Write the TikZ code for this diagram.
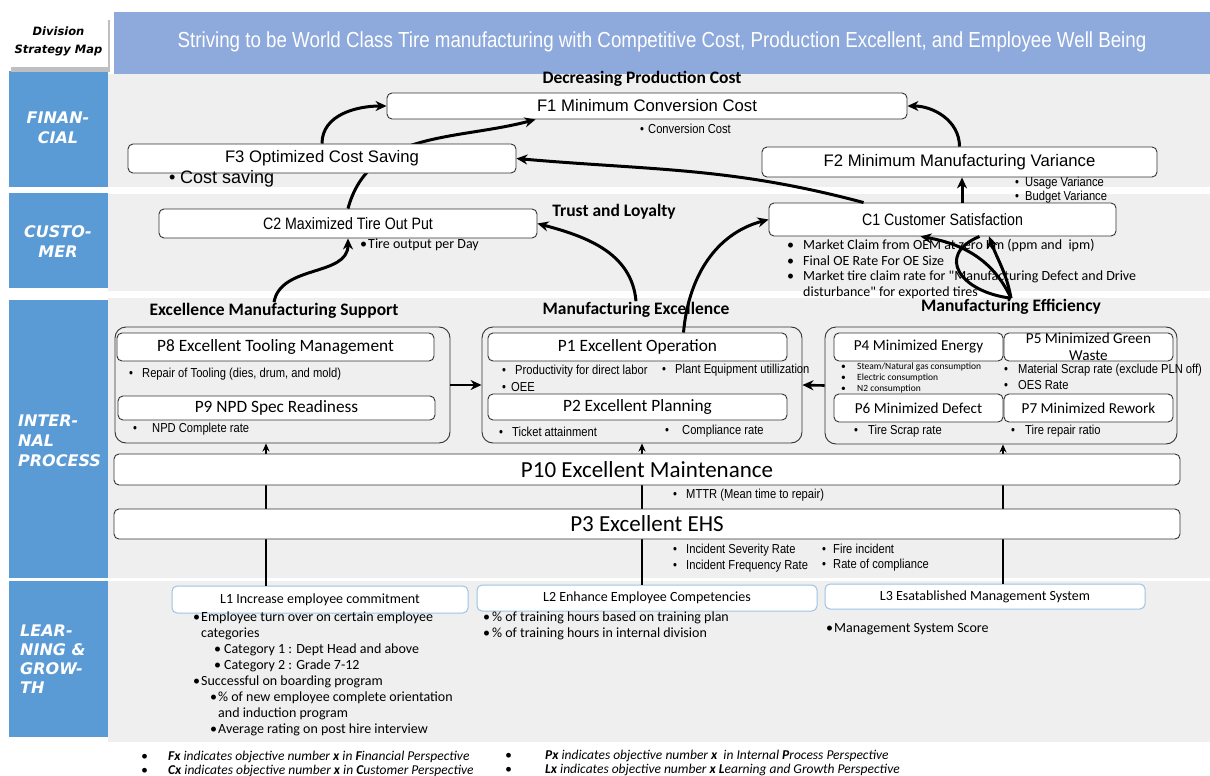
\documentclass[tikz,border=0pt]{standalone}
\usepackage{fontspec}
\setmainfont{Carlito}[Ligatures=TeXOff]
\newfontfamily\arialf{Liberation Sans}
\newfontfamily\narrowf[FakeStretch=0.86]{Liberation Sans}
\newfontfamily\sidef{DejaVu Sans}
\usetikzlibrary{arrows.meta,calc,positioning}

\definecolor{hdrblue}{HTML}{8EA9DB}
\definecolor{sideblue}{HTML}{5B9BD5}
\definecolor{bandgrey}{HTML}{EFEFEF}
\definecolor{lline}{HTML}{9DC3E6}

\newcommand\setfs[2]{\fontsize{#1}{#2}\selectfont}
\newcommand\bul[1]{\makebox[#1][l]{•}}

\tikzset{
  obj/.style={draw=black!80, fill=white, rounded corners=5pt, line width=0.9pt, inner sep=0pt},
  fobj/.style={obj, font=\arialf\setfs{16.7}{19}},
  cobj/.style={obj, font=\narrowf\setfs{16.5}{19}},
  pobj/.style={obj, font=\setfs{17.3}{19}},
  sobj/.style={obj, font=\setfs{15.2}{17}, align=center},
  eobj/.style={obj, font=\setfs{23}{25}},
  lobj/.style={obj, draw=lline, line width=1pt, font=\setfs{14}{16}},
  grp/.style={draw=black!80, rounded corners=11pt, line width=0.9pt, inner sep=0pt},
  head/.style={font=\bfseries\setfs{17.5}{20}, inner sep=1pt},
  sidetxt/.style={text=white, inner sep=0pt, font=\sidef\bfseries\itshape\setfs{16}{20}},
  anote/.style={anchor=west, inner sep=0pt, font=\narrowf\setfs{13}{15}},
  cnote/.style={anchor=west, inner sep=0pt, font=\setfs{14}{16}},
  tnote/.style={anchor=west, inner sep=0pt, font=\setfs{9.5}{11}},
  fnote/.style={anchor=west, inner sep=0pt, font=\itshape\setfs{13.5}{15}},
  flow/.style={-{Stealth[length=11pt,width=10pt]}, line width=3pt},
  vflow/.style={-{Stealth[length=8pt,width=7pt]}, line width=2pt},
}

\begin{document}
\begin{tikzpicture}[x=1pt,y=-1pt]
\useasboundingbox (0,0) rectangle (1210,776);
\fill[white] (0,0) rectangle (1210,776);

\foreach \t/\b in {74/187, 194/291, 298/578, 581/742}
  \fill[bandgrey] (108,\t) rectangle (1210,\b);
\foreach \t/\b in {71/187, 193/288, 300/578, 581/737}
  \fill[sideblue] (9,\t) rectangle (108,\b);
\fill[hdrblue] (114,12) rectangle (1210,74);
\fill[black!25] (11,20) rectangle (110,72);
\node[fill=white, minimum width=99pt, minimum height=52pt, inner sep=0pt, align=center,
  font=\sidef\bfseries\itshape\setfs{11.5}{18}] (dsm) at (58.5,41.5) {Division\\Strategy Map};
\node[text=white, font=\narrowf\setfs{21.8}{24}] (title) at (662,42)
  {Striving to be World Class Tire manufacturing with Competitive Cost, Production Excellent, and Employee Well Being};

\node[sidetxt, align=center] (sfin) at (58,128) {FINAN-\\CIAL};
\node[sidetxt, align=center] (scus) at (58,241.5) {CUSTO-\\MER};
\node[sidetxt, align=left, anchor=west] (sint) at (18,440.5) {INTER-\\NAL\\PROCESS};
\node[sidetxt, align=left, anchor=west, font=\sidef\bfseries\itshape\setfs{16}{19}] (slrn) at (20,659.5) {LEAR-\\NING \&\\GROW-\\TH};

\node[head] (fhd) at (642,79) {Decreasing Production Cost};
\node[fobj, minimum width=520pt, minimum height=26pt] (f1) at (647,106) {F1 Minimum Conversion Cost};
\node[cobj, minimum width=378pt, minimum height=29pt] (c2) at (348,223.5) {C2 Maximized Tire Out Put};
\draw[flow] (c2.north) to[out=75,in=195] ($(f1.south west)+(149,0)$);
\node[fobj, minimum width=388pt, minimum height=29pt] (f3) at (322,158.5) {F3 Optimized Cost Saving};
\node[fobj, minimum width=395pt, minimum height=30pt] (f2) at (959.5,162) {F2 Minimum Manufacturing Variance};
\node[anote] (f1n) at (640,129) {\bul{8pt}Conversion Cost};
\node[anote, font=\arialf\setfs{18}{20}] (f3n) at (169,179) {\bul{11pt}Cost saving};
\node[anote] (f2n1) at (1015,183) {\bul{10pt}Usage Variance};
\node[anote] (f2n2) at (1015,197) {\bul{10pt}Budget Variance};

\node[head] (tl) at (614,212) {Trust and Loyalty};
\node[cobj, minimum width=347pt, minimum height=33pt] (c1) at (942.5,219.5) {C1 Customer Satisfaction};
\node[cnote] (c2n) at (360,245) {\bul{8pt}Tire output per Day};
\foreach \x/\y/\t [count=\i] in {787/246/{\bul{16pt}Market Claim from OEM at zero Km (ppm and~ ipm)},
    787/261/{\bul{16pt}Final OE Rate For OE Size},
    787/277/{\bul{16pt}Market tire claim rate for "Manufacturing Defect and Drive},
    803/293/{disturbance" for exported tires}}
  \node[cnote] (c1n\i) at (\x,\y) {\t};

\node[head] (emsup) at (274,311) {Excellence Manufacturing Support};
\node[head] (mexc) at (636,310) {Manufacturing Excellence};
\node[head] (meff) at (1011,307) {Manufacturing Efficiency};

\node[grp, minimum width=335pt, minimum height=116pt] (g1) at (282.5,385) {};
\node[grp, minimum width=320pt, minimum height=116pt] (g2) at (642,385) {};
\node[grp, minimum width=352pt, minimum height=117pt] (g3) at (1001,385.5) {};

\node[pobj, minimum width=317pt, minimum height=28pt] (p8) at (275.5,347) {P8 Excellent Tooling Management};
\node[pobj, minimum width=317pt, minimum height=24pt] (p9) at (276.5,408) {P9 NPD Spec Readiness};
\node[pobj, minimum width=299pt, minimum height=28pt] (p1) at (637.5,347) {P1 Excellent Operation};
\node[pobj, minimum width=299pt, minimum height=26pt] (p2) at (637.5,407) {P2 Excellent Planning};
\node[sobj, minimum width=169pt, minimum height=28pt] (p4) at (918.5,347) {P4 Minimized Energy};
\node[sobj, minimum width=169pt, minimum height=28pt] (p5) at (1088.5,347) {P5 Minimized Green\\Waste};
\node[sobj, minimum width=169pt, minimum height=28pt] (p6) at (918.5,408) {P6 Minimized Defect};
\node[sobj, minimum width=169pt, minimum height=28pt] (p7) at (1088.5,408) {P7 Minimized Rework};

\foreach \x/\y/\t [count=\i] in {129/374/{\bul{13pt}Repair of Tooling (dies, drum, and mold)},
    133/429/{\bul{19pt}NPD Complete rate},
    502/371/{\bul{13pt}Productivity for direct labor},
    662/370/{\bul{13pt}Plant Equipment utillization},
    502/387/{\bul{9pt}OEE},
    499/432/{\bul{13pt}Ticket attainment},
    665/431/{\bul{17pt}Compliance rate},
    1004/370/{\bul{14pt}Material Scrap rate (exclude PLN off)},
    1004/385/{\bul{14pt}OES Rate},
    854/431/{\bul{14pt}Tire Scrap rate},
    1011/431/{\bul{14pt}Tire repair ratio},
    673/495/{\bul{13pt}MTTR (Mean time to repair)},
    673/550/{\bul{13pt}Incident Severity Rate},
    673/566/{\bul{13pt}Incident Frequency Rate},
    822/549/{\bul{11pt}Fire incident},
    822/565/{\bul{11pt}Rate of compliance}}
  \node[anote] (pn\i) at (\x,\y) {\t};
\foreach \y/\t [count=\i] in {367/{Steam/Natural gas consumption}, 378/{Electric consumption}, 389/{N2 consumption}}
  \node[tnote] (p4n\i) at (841,\y) {\bul{16pt}\t};

\node[lobj, minimum width=296pt, minimum height=27pt] (l1) at (320,599.5) {L1 Increase employee commitment};
\node[lobj, minimum width=340pt, minimum height=26pt] (l2) at (647,598) {L2 Enhance Employee Competencies};
\node[lobj, minimum width=320pt, minimum height=25pt] (l3) at (985,596.5) {L3 Esatablished Management System};

\foreach \g/\l/\dx in {g1/l1/-16.5, g2/l2/0, g3/l3/2}
  \draw[vflow] ($(\g.south |- \l.north)+(\dx,0)$) -- ($(\g.south)+(\dx,0)$);

\node[eobj, minimum width=1066pt, minimum height=31pt] (p10) at (647,469.5) {P10 Excellent Maintenance};
\node[eobj, minimum width=1066pt, minimum height=30pt] (p3) at (647,524) {P3 Excellent EHS};

\foreach \x/\y/\t [count=\i] in {193/618/{\bul{8pt}Employee turn over on certain employee},
    201/634/{categories},
    214/650/{\bul{10pt}Category 1 : Dept Head and above},
    214/666/{\bul{10pt}Category 2 : Grade 7-12},
    193/682/{\bul{8pt}Successful on boarding program},
    210/698/{\bul{8pt}\% of new employee complete orientation},
    218/714/{and induction program},
    210/730/{\bul{8pt}Average rating on post hire interview},
    483/618/{\bul{9pt}\% of training hours based on training plan},
    483/634/{\bul{9pt}\% of training hours in internal division},
    826/629/{\bul{8pt}Management System Score}}
  \node[cnote] (ln\i) at (\x,\y) {\t};

\foreach \x/\y/\w/\t [count=\i] in {141/757/27pt/{\textbf{Fx} indicates objective number \textbf{x} in \textbf{F}inancial Perspective},
    141/771/27pt/{\textbf{Cx} indicates objective number \textbf{x} in \textbf{C}ustomer Perspective},
    505/756/40pt/{\textbf{Px} indicates objective number \textbf{x}~ in Internal \textbf{P}rocess Perspective},
    505/770/40pt/{\textbf{Lx} indicates objective number \textbf{x} \textbf{L}earning and Growth Perspective}}
  \node[fnote] (ft\i) at (\x,\y) {\bul{\w}\t};

\draw[flow, line width=2.6pt] (g1.east) -- (g2.west);
\draw[flow, line width=2.6pt] (g3.west) -- (g2.east);

\draw[flow] (f3.north) to[out=90,in=180] (f1.west);
\draw[flow] (f2.north) to[out=90,in=0] (f1.east);
\draw[flow] ($(c1.north west)+(95,0)$) to[out=165,in=-5] (f3.east);
\draw[flow] ($(c1.north)+(19.5,0)$) -- ($(f2.south)+(2.5,0)$);
\draw[flow] ($(p1.north)+(46,0)$) to[out=85,in=195] (c1.west);
\draw[flow] (mexc.north) to[out=95,in=-15] (c2.east);
\draw[flow] (emsup.north) to[out=80,in=-90] (c2.south);
\draw[flow] (meff.north) to[out=115,in=-10] ($(c1.south)+(-22,0)$);
\draw[line width=3pt] (meff.north) .. controls (960,292) and (935,255) .. ($(c1.south)+(37,0)$);
\draw[flow] (meff.north) to[out=100,in=-70] ($(c1.south)+(46.5,0)$);
\end{tikzpicture}
\end{document}
